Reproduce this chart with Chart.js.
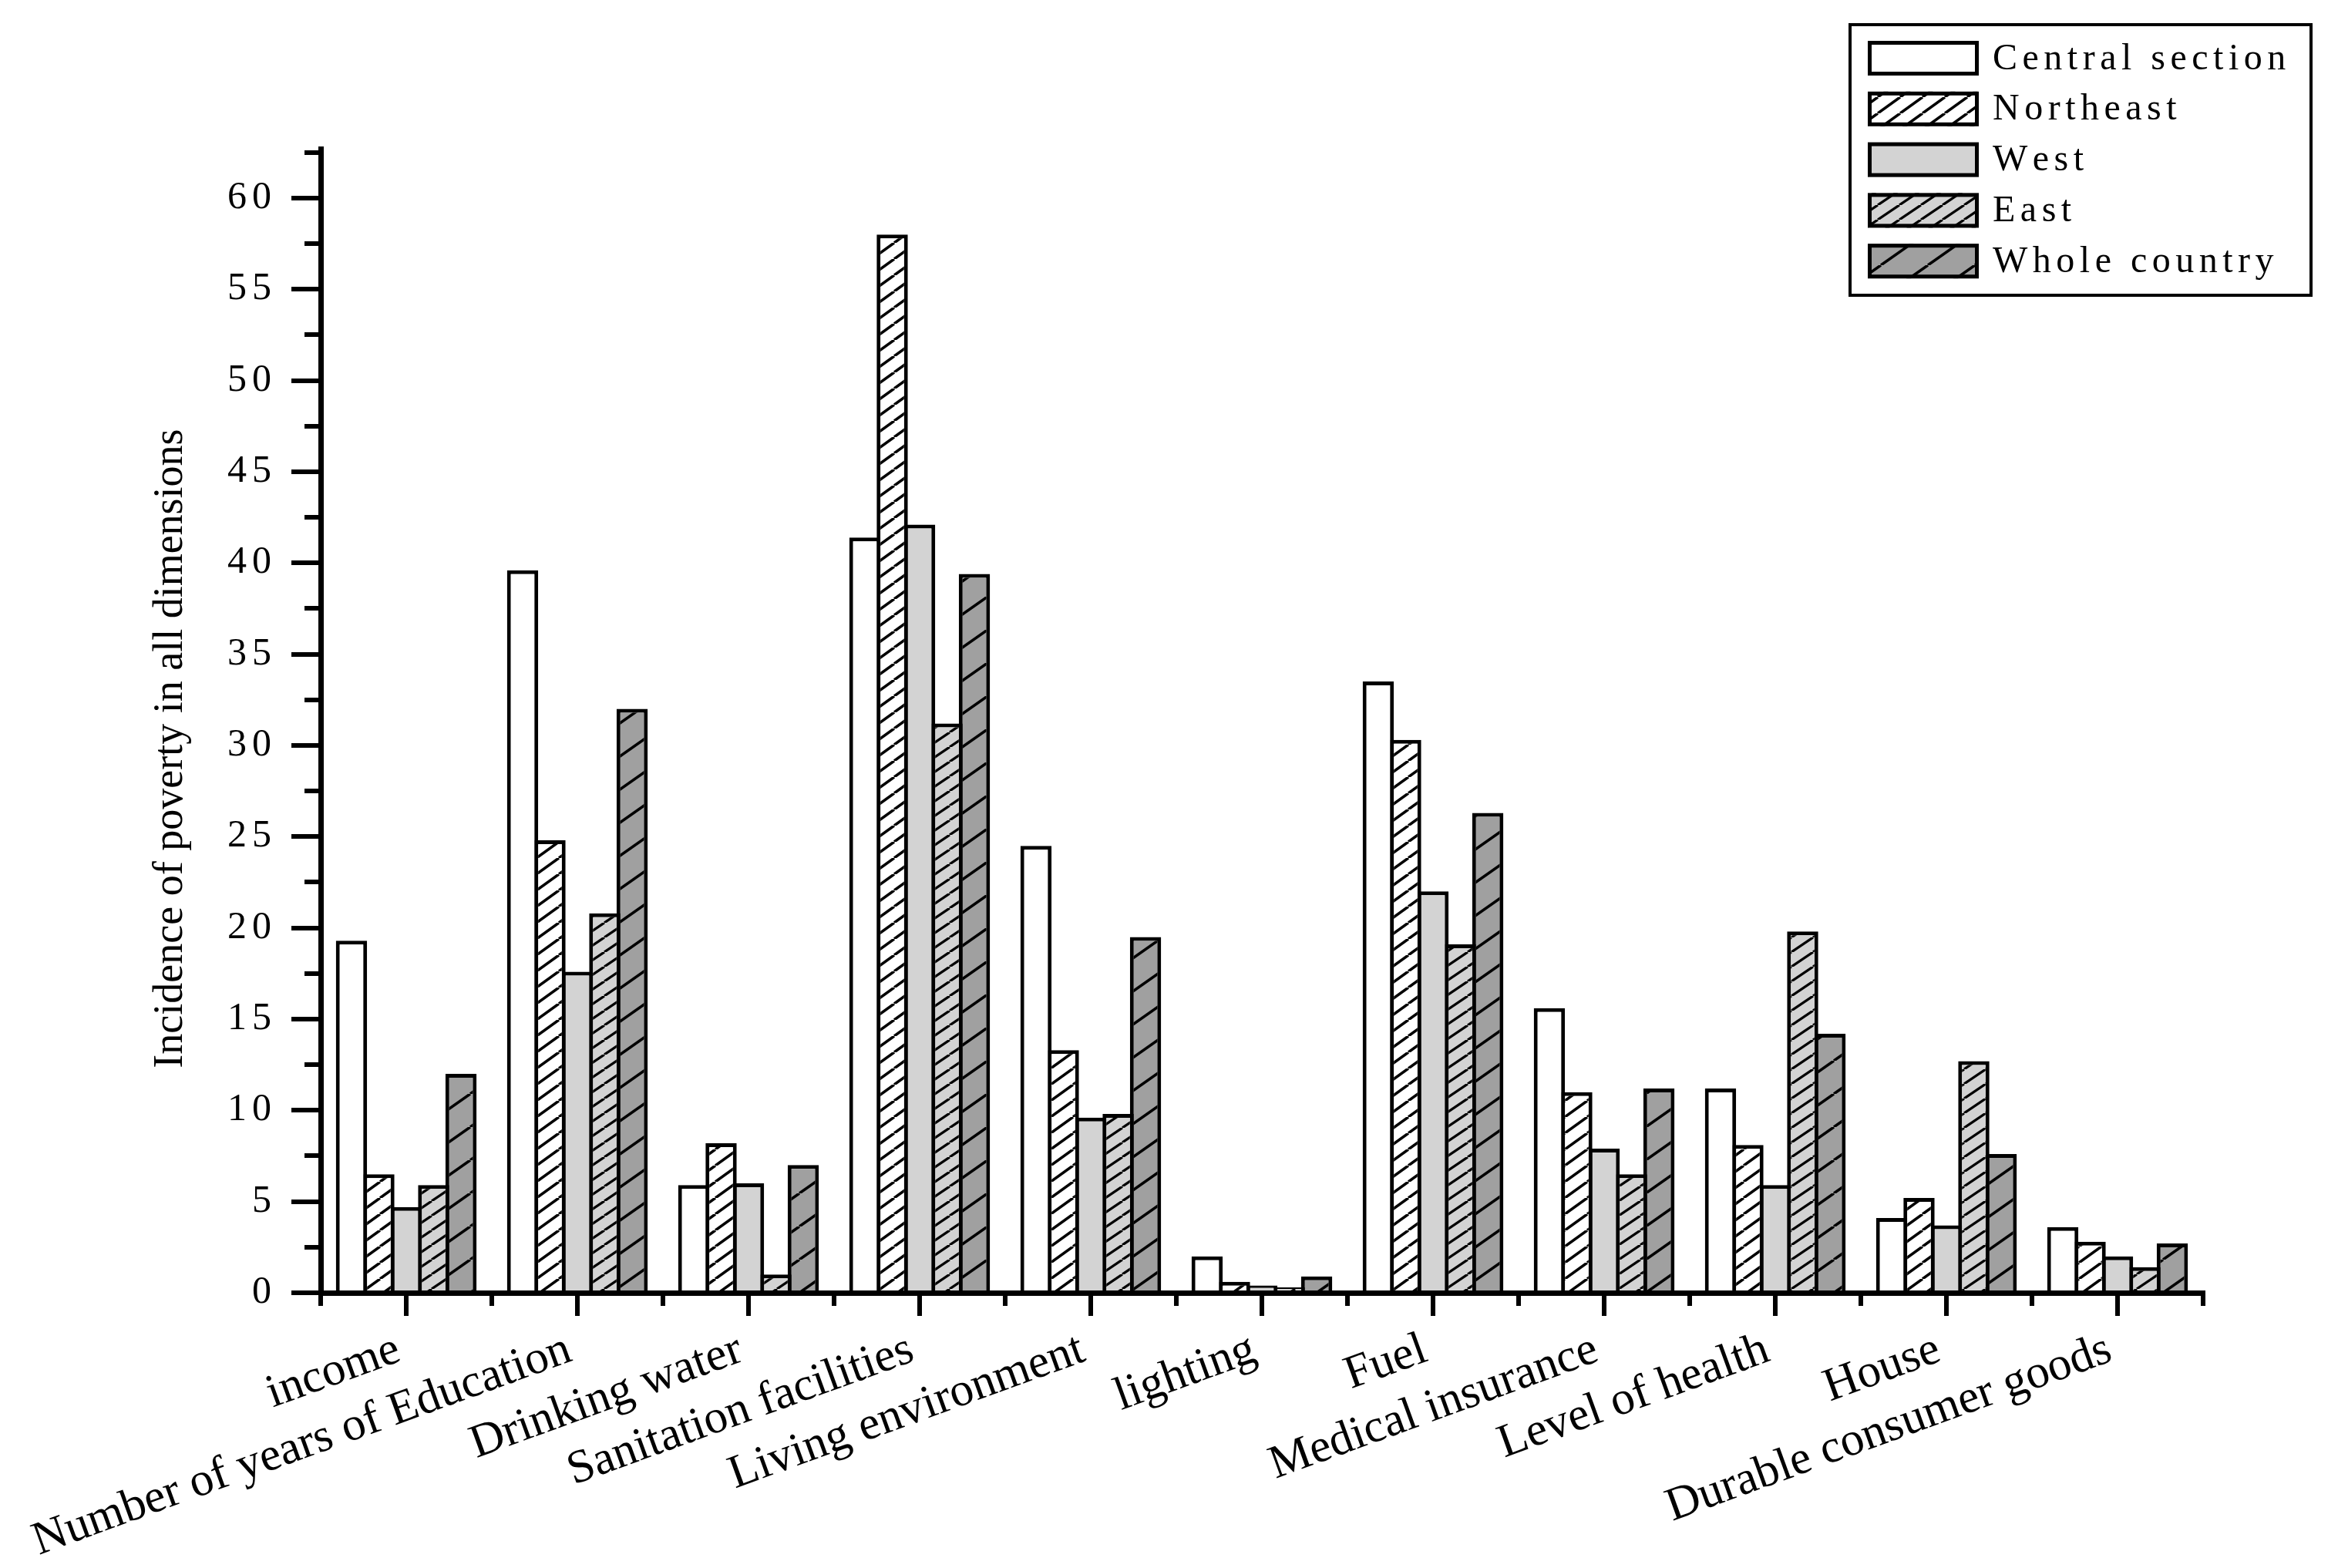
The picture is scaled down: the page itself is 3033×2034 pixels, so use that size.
<!DOCTYPE html>
<html>
<head>
<meta charset="utf-8">
<script src="https://cdn.jsdelivr.net/npm/chart.js@4.4.0/dist/chart.umd.min.js"></script>
<style>
  html, body { margin: 0; padding: 0; background: #fff; }
  #wrap { width: 3033px; height: 2034px; }
</style>
</head>
<body>
<div id="wrap"><canvas id="chart"></canvas></div>
<script>
const categories = ['income', 'Number of years of Education', 'Drinking water', 'Sanitation facilities',
  'Living environment', 'lighting', 'Fuel', 'Medical insurance', 'Level of health', 'House',
  'Durable consumer goods'];
const seriesNames = ['Central section', 'Northeast', 'West', 'East', 'Whole country'];

const central   = [19.3, 39.6, 5.9, 41.4, 24.5, 2.0, 33.5, 15.6, 11.2, 4.1, 3.6];
const northeast = [6.5, 24.8, 8.2, 58.0, 13.3, 0.6, 30.3, 11.0, 8.1, 5.2, 2.8];
const west      = [4.7, 17.6, 6.0, 42.1, 9.6, 0.4, 22.0, 7.9, 5.9, 3.7, 2.0];
const east      = [5.9, 20.8, 1.0, 31.2, 9.8, 0.3, 19.1, 6.5, 19.8, 12.7, 1.4];
const whole     = [12.0, 32.0, 7.0, 39.4, 19.5, 0.9, 26.3, 11.2, 14.2, 7.6, 2.7];

const yTickValues = [0, 5, 10, 15, 20, 25, 30, 35, 40, 45, 50, 55, 60];
const yMinorValues = [2.5, 7.5, 12.5, 17.5, 22.5, 27.5, 32.5, 37.5, 42.5, 47.5, 52.5, 57.5, 62.5];
const yTitle = 'Incidence of poverty in all dimensions';

const serif = '"Liberation Serif", "Times New Roman", serif';

// motif hachuré (lignes diagonales)
function hatch(bg, w, h, lw) {
  const c = document.createElement('canvas');
  c.width = w; c.height = h;
  const g = c.getContext('2d');
  g.fillStyle = bg;
  g.fillRect(0, 0, w, h);
  if (lw > 0) {
    g.strokeStyle = '#000';
    g.lineWidth = lw;
    for (let k = -1; k <= 1; k++) {
      g.beginPath();
      g.moveTo(k * w, h);
      g.lineTo(k * w + w, 0);
      g.stroke();
    }
  }
  return g.createPattern(c, 'repeat');
}

// texte espacé, lettre par lettre
function spacedText(ctx, text, x, y, spacing, align) {
  const chars = [...text];
  const widths = chars.map(ch => ctx.measureText(ch).width);
  const total = widths.reduce((a, b) => a + b, 0) + spacing * (chars.length - 1);
  let cx = align === 'right' ? x - total : x;
  ctx.textAlign = 'left';
  chars.forEach((ch, i) => {
    ctx.fillText(ch, cx, y);
    cx += widths[i] + spacing;
  });
}

const fills = [
  '#ffffff',
  hatch('#ffffff', 29, 21, 3.5),
  '#d3d3d3',
  hatch('#d3d3d3', 28, 19, 3.2),
  hatch('#a0a0a0', 61, 43, 3.5)
];
const values = [central, northeast, west, east, whole];

const extras = {
  id: 'extras',
  afterDatasetsDraw(chart) {
    const ctx = chart.ctx;
    const xs = chart.scales.x, ys = chart.scales.y;
    const area = chart.chartArea;
    ctx.save();
    // ticks mineurs
    ctx.strokeStyle = '#000';
    ctx.lineWidth = 6;
    ctx.beginPath();
    for (let i = 0; i <= categories.length; i++) {
      const x = Math.round(xs.getPixelForValue(i - 0.5));
      ctx.moveTo(x, area.bottom);
      ctx.lineTo(x, area.bottom + 17);
    }
    yMinorValues.forEach(v => {
      const y = Math.round(ys.getPixelForValue(v));
      ctx.moveTo(area.left, y);
      ctx.lineTo(area.left - 21, y);
    });
    ctx.stroke();
    // étiquettes de l'axe y
    ctx.fillStyle = '#000';
    ctx.font = '50px ' + serif;
    ctx.textBaseline = 'middle';
    ys.ticks.forEach(t => {
      spacedText(ctx, String(t.value), area.left - 64, ys.getPixelForValue(t.value), 7, 'right');
    });
    // titre de l'axe y
    ctx.font = '54px ' + serif;
    ctx.textAlign = 'center';
    ctx.translate(222, (area.top + area.bottom) / 2 + 36);
    ctx.rotate(-Math.PI / 2);
    ctx.fillText(yTitle, 0, 0);
    ctx.restore();
  },
  afterDraw(chart) {
    const ctx = chart.ctx;
    ctx.save();
    ctx.strokeStyle = '#000';
    ctx.lineWidth = 4;
    ctx.strokeRect(2400, 32, 598, 351);
    ctx.font = '48px ' + serif;
    ctx.textBaseline = 'middle';
    chart.data.datasets.forEach((ds, i) => {
      const y = 53 + i * 65.8;
      ctx.fillStyle = ds.backgroundColor;
      ctx.fillRect(2423, y, 144, 45);
      ctx.lineWidth = 5;
      ctx.strokeRect(2425.5, y + 2.5, 139, 40);
      ctx.fillStyle = '#000';
      spacedText(ctx, ds.label, 2585, y + 24, 6.5, 'left');
    });
    ctx.restore();
  }
};

new Chart(document.getElementById('chart'), {
  type: 'bar',
  data: {
    labels: categories,
    datasets: seriesNames.map((name, i) => ({
      label: name,
      data: values[i],
      backgroundColor: fills[i],
      borderColor: '#000',
      borderWidth: 5,
      borderSkipped: 'start',
      categoryPercentage: 0.8,
      barPercentage: 1.14
    }))
  },
  options: {
    responsive: true,
    maintainAspectRatio: false,
    animation: false,
    devicePixelRatio: 1,
    layout: { padding: { left: 0, top: 193, right: 175, bottom: 0 } },
    plugins: { legend: { display: false }, tooltip: { enabled: false } },
    scales: {
      x: {
        offset: true,
        grid: { offset: false, drawOnChartArea: false, drawTicks: true, tickLength: 30, lineWidth: 6, color: '#000' },
        border: { display: true, width: 7, color: '#000', z: 1 },
        ticks: {
          autoSkip: false, maxRotation: 20, minRotation: 20, padding: 8, labelOffset: -10,
          color: '#000', font: { family: serif, size: 61 }
        },
        afterFit: s => { s.height = 357; }
      },
      y: {
        min: 0,
        max: 62.7,
        afterBuildTicks: s => { s.ticks = yTickValues.map(v => ({ value: v })); },
        grid: { drawOnChartArea: false, drawTicks: true, tickLength: 38, lineWidth: 6, color: '#000' },
        border: { display: true, width: 7, color: '#000', z: 1 },
        ticks: { display: false },
        title: { display: false },
        afterFit: s => { s.width = 416; }
      }
    }
  },
  plugins: [extras]
});
</script>
</body>
</html>
